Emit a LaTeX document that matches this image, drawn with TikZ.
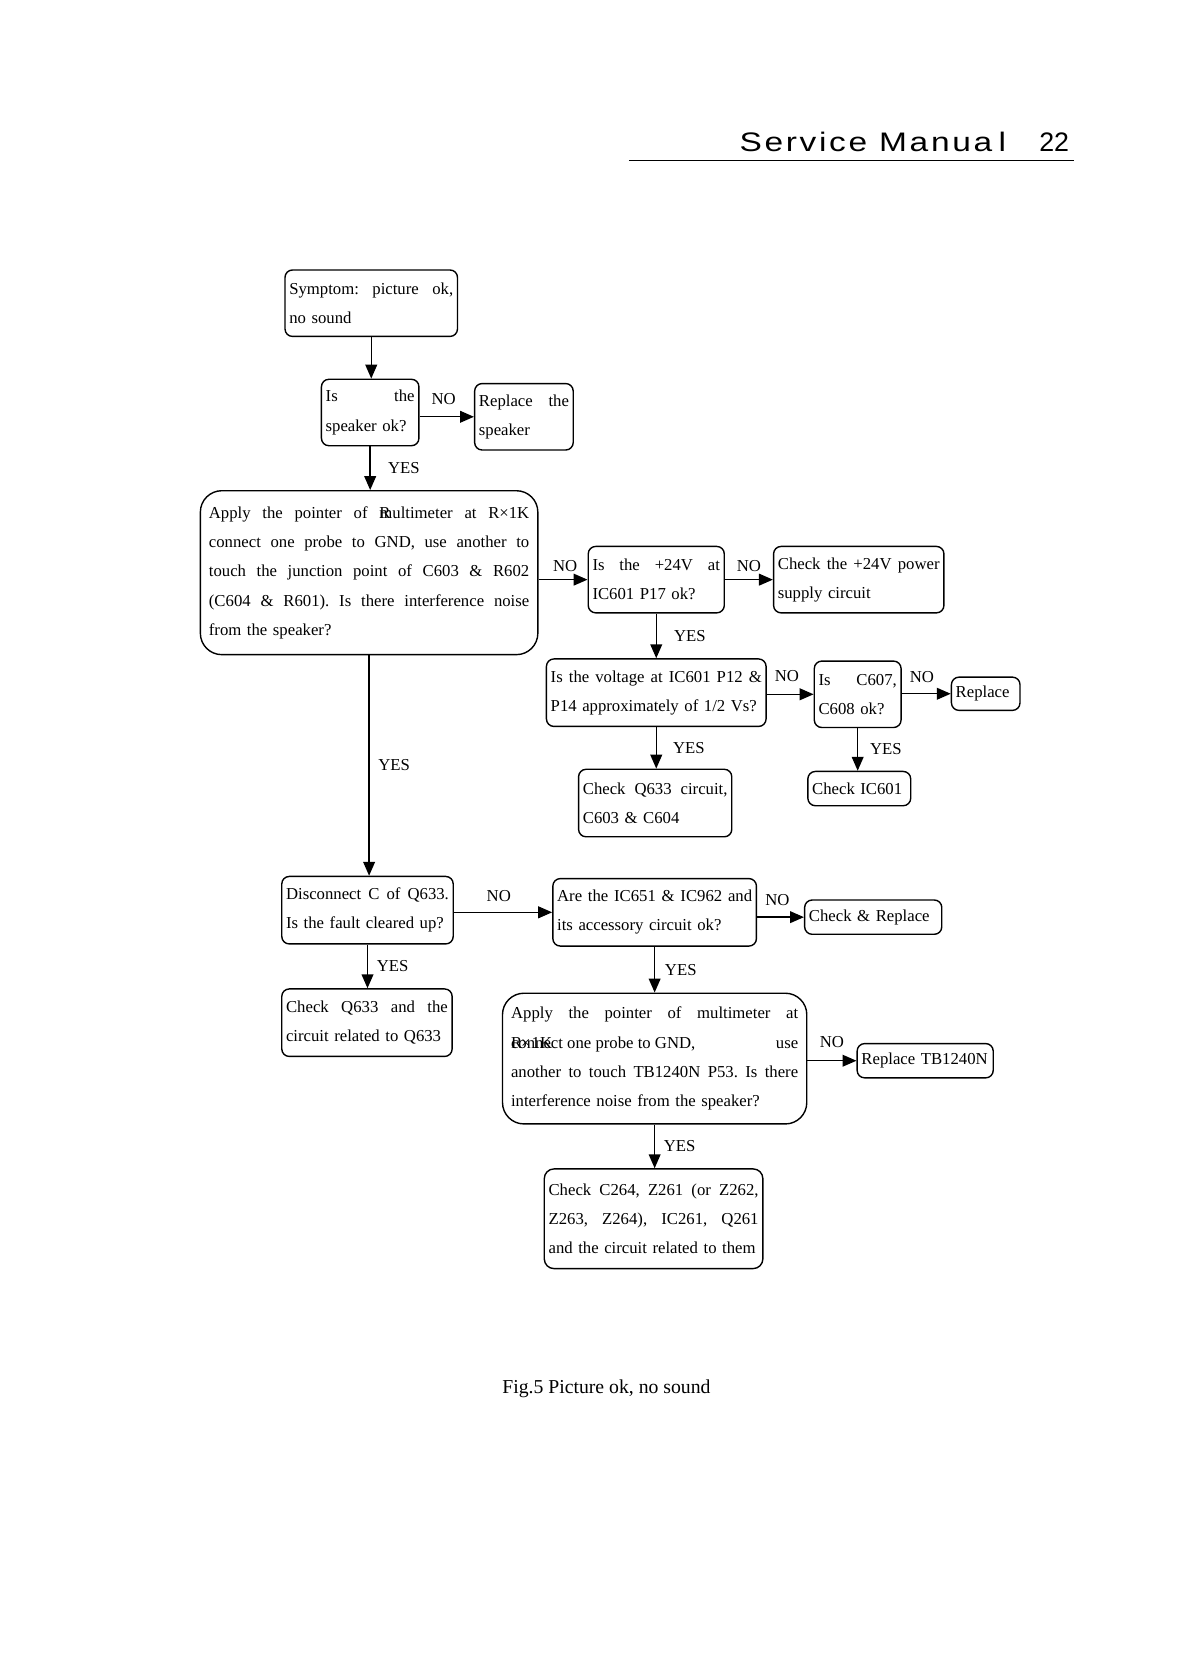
\documentclass[tikz,border=0pt]{standalone}
\usepackage{fontspec}
\setmainfont{Liberation Serif}
\newfontfamily\headfont[FakeStretch=1.25,LetterSpace=10]{Liberation Sans}
\newfontfamily\pagefont{Liberation Sans}
\usetikzlibrary{arrows.meta}
\newcommand\fs{\fontsize{15.6}{27.3}\selectfont\frenchspacing}
\newcommand\jline[1]{\leavevmode\hbox to \linewidth{\spaceskip=0.25em plus 1fil\xspaceskip=0.25em plus 1fil\relax#1}}

\begin{document}
\begin{tikzpicture}[x=1pt, y=-1pt,
    box/.style={draw, line width=1.3pt, rounded corners=7pt, inner xsep=4pt, inner ysep=0pt, align=left, font=\fs},
    bigbox/.style={box, rounded corners=20pt, inner xsep=8pt},
    arr/.style={-{Triangle[length=13pt, width=11pt]}, line width=1.3pt},
    lbl/.style={font=\fs, inner sep=0pt}]
  \path[use as bounding box, fill=white] (0,0) rectangle (1110,1568);

  % Header
  \node[font=\headfont\fontsize{25}{25}\selectfont, anchor=base west, inner sep=0pt] (title) at (690,141) {Service Manua\hspace{6pt}l};
  \node[font=\pagefont\fontsize{25}{25}\selectfont, anchor=base east, inner sep=0pt] (page) at (998,141) {22};
  \coordinate (rulel) at (587,150);
  \coordinate (ruler) at (1002,150);
  \draw[line width=1.2pt] (rulel) -- (ruler);

  % Nodes
  \node[box, text width=153pt, minimum height=62pt] at (346.5,283) (symptom) {\jline{Symptom: picture ok,}\\no sound};
  \node[box, text width=83pt, minimum height=62pt] at (345.5,385) (speaker) {\jline{Is the}\\speaker ok?};
  \node[box, text width=84pt, minimum height=62pt] at (489,389) (replspk) {\jline{Replace the}\\speaker};
  \node[bigbox, text width=299pt, minimum height=153pt] at (344.5,534.5) (noise) {\jline{Apply the pointer of \rlap{R}multimeter at R×1K}\\\jline{connect one probe to GND, use another to}\\\jline{touch the junction point of C603 \& R602}\\\jline{(C604 \& R601). Is there interference noise}\\from the speaker?};
  \node[box, text width=119pt, minimum height=62pt] at (612.5,541) (supply) {\jline{Is the +24V at}\\IC601 P17 ok?};
  \node[box, text width=151pt, minimum height=62pt] at (801.5,541) (power) {\jline{Check the +24V power}\\supply circuit};
  \node[box, text width=197pt, minimum height=63pt] at (612.5,646.5) (voltage) {\jline{Is the voltage at IC601 P12 \&}\\P14 approximately of 1/2 Vs?};
  \node[box, text width=73pt, minimum height=62pt] at (800.5,648) (caps) {\jline{Is C607,}\\C608 ok?};
  \node[box, text width=56pt, minimum height=31pt] at (920,647.5) (replcap) {Replace};
  \node[box, text width=135pt, minimum height=63pt] at (611.5,749.5) (checkq) {\jline{Check Q633 circuit,}\\C603 \& C604};
  \node[box, text width=88pt, minimum height=32pt] at (802,736) (checkic) {Check IC601};
  \node[box, text width=152pt, minimum height=63pt] at (343,849.5) (disc) {\jline{Disconnect C of Q633.}\\Is the fault cleared up?};
  \node[box, text width=182pt, minimum height=63pt] at (611,851.5) (accs) {\jline{Are the IC651 \& IC962 and}\\its accessory circuit ok?};
  \node[box, text width=120pt, minimum height=32pt] at (815,856) (checkrep) {Check \& Replace};
  \node[box, text width=151pt, minimum height=63pt] at (342.5,954.5) (checkqb) {\jline{Check Q633 and the}\\circuit related to Q633};
  \node[bigbox, text width=268pt, minimum height=122pt] at (611,988) (probe) {\jline{Apply the pointer of multimeter at}\\\jline{\rlap{R\kern-1pt×\kern1pt1K}connect one probe to GND,\hfill use}\\\jline{another to touch TB1240N P53. Is there}\\interference noise from the speaker?};
  \node[box, text width=119pt, minimum height=32pt] at (863.5,990) (repltb) {Replace TB1240N};
  \node[box, rounded corners=9pt, text width=196pt, minimum height=93pt] at (610,1137.5) (checkc) {\jline{Check C264, Z261 (or Z262,}\\\jline{Z263, Z264), IC261, Q261}\\and the circuit related to them};
  \node[font=\fontsize{18.4}{22}\selectfont] at (566,1296) (caption) {Fig.5 Picture ok, no sound};

  % Connectors
  \draw[arr] (symptom.south) -- (symptom.south |- speaker.north);
  \draw[arr] (speaker.east |- replspk.west) -- node[lbl, above=11pt, xshift=-3pt] {NO} (replspk.west);
  \draw[arr] (speaker.south) -- node[lbl, right=16pt] {YES} (speaker.south |- noise.north);
  \draw[arr] (noise.east |- supply.west) -- node[lbl, above=7pt, xshift=2pt] {NO} (supply.west);
  \draw[arr] (supply.east) -- node[lbl, above=7pt] {NO} (power.west);
  \draw[arr] (supply.south) -- node[lbl, right=16pt] {YES} (supply.south |- voltage.north);
  \draw[arr] (voltage.east |- caps.west) -- node[lbl, above=11pt, xshift=-3pt] {NO} (caps.west);
  \draw[arr] (caps.east |- replcap.west) -- node[lbl, above=10pt, xshift=-4pt] {NO} (replcap.west);
  \draw[arr] (voltage.south) -- node[lbl, right=15pt] {YES} (voltage.south |- checkq.north);
  \draw[arr] (caps.south) -- node[lbl, right=11pt] {YES} (caps.south |- checkic.north);
  \draw[arr] (noise.south) -- node[lbl, right=8pt] {YES} (noise.south |- disc.north);
  \draw[arr] (disc.east |- accs.west) -- node[lbl, above=9pt, xshift=-4pt] {NO} (accs.west);
  \draw[arr] (accs.east |- checkrep.west) -- node[lbl, above=10pt, xshift=-3pt] {NO} (checkrep.west);
  \draw[arr] (disc.south) -- node[lbl, right=8pt] {YES} (disc.south |- checkqb.north);
  \draw[arr] (accs.south) -- node[lbl, right=9pt] {YES} (accs.south |- probe.north);
  \draw[arr] (probe.east |- repltb.west) -- node[lbl, above=12pt] {NO} (repltb.west);
  \draw[arr] (probe.south) -- node[lbl, right=8pt] {YES} (probe.south |- checkc.north);
\end{tikzpicture}
\end{document}
